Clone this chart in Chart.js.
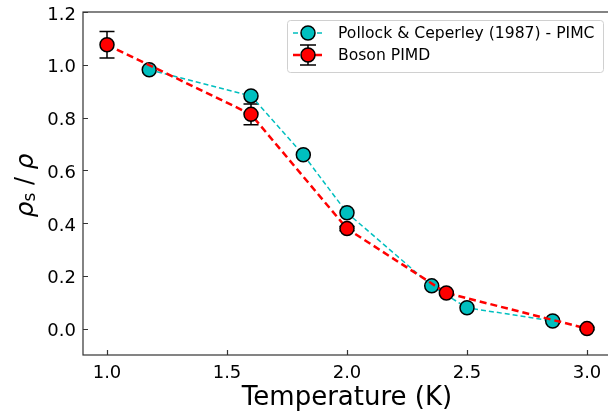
<!DOCTYPE html>
<html>
<head>
<meta charset="utf-8">
<script src="https://cdn.jsdelivr.net/npm/chart.js@4.4.1/dist/chart.umd.min.js"></script>
<style>
html,body{margin:0;padding:0;background:#fff;overflow:hidden;}
#wrap{width:608px;height:419px;position:relative;overflow:hidden;}
canvas{display:block;}
</style>
</head>
<body>
<div id="wrap"><canvas id="c" width="612" height="419" style="width:612px;height:419px"></canvas></div>
<script>
// ---- data ----
const pimcT   = [1.176, 1.6, 1.818, 2.0, 2.353, 2.5, 2.857];
const pimcRho = [0.981, 0.882, 0.659, 0.439, 0.162, 0.079, 0.029];
const pimdT   = [1.0, 1.6, 2.0, 2.414, 3.0];
const pimdRho = [1.076, 0.812, 0.379, 0.135, 0.0];
const pimdErr = [0.05, 0.039, 0.008, 0.006, 0.004];
const xTicks = [1.0, 1.5, 2.0, 2.5, 3.0];
const yTicks = [0.0, 0.2, 0.4, 0.6, 0.8, 1.0, 1.2];
const labelPIMC = 'Pollock & Ceperley (1987) - PIMC';
const labelPIMD = 'Boson PIMD';
const xTitle = 'Temperature (K)';

const CYAN = '#00bfbf', RED = '#ff0000';
const FONT = "'DejaVu Sans', sans-serif";

const frame = {
  id: 'frame',
  beforeDatasetsDraw(chart) {
    const ctx = chart.ctx, xs = chart.scales.x, ys = chart.scales.y;
    ctx.save();
    ctx.strokeStyle = '#000'; ctx.lineWidth = 1.5;
    pimdT.forEach((t, i) => {
      const px = xs.getPixelForValue(t);
      const y1 = ys.getPixelForValue(pimdRho[i] + pimdErr[i]);
      const y2 = ys.getPixelForValue(pimdRho[i] - pimdErr[i]);
      ctx.beginPath();
      ctx.moveTo(px, y1); ctx.lineTo(px, y2);
      ctx.moveTo(px - 7.5, y1); ctx.lineTo(px + 7.5, y1);
      ctx.moveTo(px - 7.5, y2); ctx.lineTo(px + 7.5, y2);
      ctx.stroke();
    });
    ctx.restore();
  },
  afterDraw(chart) {
    const ctx = chart.ctx, a = chart.chartArea, xs = chart.scales.x, ys = chart.scales.y;
    ctx.save();
    // spines
    ctx.strokeStyle = '#333'; ctx.lineWidth = 1.2;
    ctx.strokeRect(a.left, a.top, a.right - a.left, a.bottom - a.top);
    // inward ticks
    ctx.beginPath();
    xTicks.forEach(t => { const p = Math.round(xs.getPixelForValue(t)) + 0.5; ctx.moveTo(p, a.bottom); ctx.lineTo(p, a.bottom - 5); });
    yTicks.forEach(t => { const p = Math.round(ys.getPixelForValue(t)) + 0.5; ctx.moveTo(a.left, p); ctx.lineTo(a.left + 5, p); });
    ctx.stroke();

    // tick labels
    ctx.fillStyle = '#000';
    ctx.font = "18px " + FONT;
    ctx.textBaseline = 'alphabetic';
    ctx.textAlign = 'center';
    xTicks.forEach(t => ctx.fillText(t.toFixed(1), xs.getPixelForValue(t), a.bottom + 23));
    ctx.textAlign = 'right';
    yTicks.forEach(t => ctx.fillText(t.toFixed(1), a.left - 7, ys.getPixelForValue(t) + 7.5));

    // y title: rho_s / rho
    ctx.textAlign = 'left';
    ctx.translate(26, (a.top + a.bottom) / 2 + 2);
    ctx.rotate(-Math.PI / 2);
    const big = "italic 25px " + FONT, small = "17px " + FONT, norm = "24px " + FONT;
    const parts = [[big, '\u03C1', 0], [small, 's', 5], [norm, ' / ', 0], [big, '\u03C1', 0]];
    let w = 0;
    parts.forEach(p => { ctx.font = p[0]; w += ctx.measureText(p[1]).width; });
    let x = -w / 2;
    ctx.textBaseline = 'middle';
    parts.forEach(p => { ctx.font = p[0]; ctx.fillText(p[1], x, p[2]); x += ctx.measureText(p[1]).width; });
    ctx.setTransform(1, 0, 0, 1, 0, 0);

    // legend
    const lx = 287, ly = 20, lw = 316, lh = 52;
    ctx.beginPath();
    if (ctx.roundRect) ctx.roundRect(lx + 0.5, ly + 0.5, lw, lh, 3); else ctx.rect(lx + 0.5, ly + 0.5, lw, lh);
    ctx.fillStyle = 'rgba(255,255,255,0.8)'; ctx.fill();
    ctx.strokeStyle = '#d0d0d0'; ctx.lineWidth = 1; ctx.stroke();
    const rows = [
      {y: ly + 13, color: CYAN, lw: 1.5, dash: [5, 3], label: labelPIMC, err: false},
      {y: ly + 35, color: RED, lw: 2.5, dash: [7, 4], label: labelPIMD, err: true}
    ];
    rows.forEach(r => {
      ctx.save();
      ctx.strokeStyle = r.color; ctx.lineWidth = r.lw; ctx.setLineDash(r.dash);
      ctx.beginPath(); ctx.moveTo(lx + 6, r.y); ctx.lineTo(lx + 36, r.y); ctx.stroke();
      ctx.restore();
      if (r.err) {
        ctx.strokeStyle = '#000'; ctx.lineWidth = 1.5;
        ctx.beginPath();
        ctx.moveTo(lx + 21, r.y - 10); ctx.lineTo(lx + 21, r.y + 10);
        ctx.moveTo(lx + 13, r.y - 10); ctx.lineTo(lx + 29, r.y - 10);
        ctx.moveTo(lx + 13, r.y + 10); ctx.lineTo(lx + 29, r.y + 10);
        ctx.stroke();
      }
      ctx.beginPath(); ctx.arc(lx + 21, r.y, 7, 0, Math.PI * 2);
      ctx.fillStyle = r.color; ctx.fill();
      ctx.strokeStyle = '#000'; ctx.lineWidth = 1.5; ctx.stroke();
      ctx.fillStyle = '#000'; ctx.font = "15.6px " + FONT; ctx.textBaseline = 'middle'; ctx.textAlign = 'left';
      ctx.fillText(r.label, lx + 51, r.y + 1);
    });
    ctx.restore();
  }
};

const toPts = (xs, ys) => xs.map((x, i) => ({x, y: ys[i]}));

new Chart(document.getElementById('c'), {
  type: 'scatter',
  data: {
    datasets: [
      {
        label: labelPIMD, data: toPts(pimdT, pimdRho), showLine: true,
        borderColor: RED, borderWidth: 2.5, borderDash: [7, 4],
        pointRadius: 7, pointHoverRadius: 7, pointBackgroundColor: RED,
        pointBorderColor: '#000', pointBorderWidth: 1.5, order: 0
      },
      {
        label: labelPIMC, data: toPts(pimcT, pimcRho), showLine: true,
        borderColor: CYAN, borderWidth: 1.5, borderDash: [5, 3],
        pointRadius: 7, pointHoverRadius: 7, pointBackgroundColor: CYAN,
        pointBorderColor: '#000', pointBorderWidth: 1.5, order: 1
      }
    ]
  },
  options: {
    responsive: false, maintainAspectRatio: false, animation: false,
    devicePixelRatio: 1,
    layout: {autoPadding: false, padding: {left: 0, top: 12, right: 1, bottom: 0}},
    plugins: {legend: {display: false}, tooltip: {enabled: false}},
    scales: {
      x: {
        type: 'linear', min: 0.9, max: 3.1,
        afterBuildTicks: s => { s.ticks = xTicks.map(v => ({value: v})); },
        afterFit: s => { s.height = 64; s.paddingLeft = 0; s.paddingRight = 0; },
        grid: {display: false}, border: {display: false},
        ticks: {display: false},
        title: {display: true, text: xTitle, color: '#000', font: {family: FONT, size: 26}, padding: {top: 0, bottom: 5}}
      },
      y: {
        type: 'linear', min: -0.1, max: 1.2,
        afterBuildTicks: s => { s.ticks = yTicks.map(v => ({value: v})); },
        afterFit: s => { s.width = 83; s.paddingTop = 0; s.paddingBottom = 0; },
        grid: {display: false}, border: {display: false},
        ticks: {display: false}
      }
    }
  },
  plugins: [frame]
});
</script>
</body>
</html>
